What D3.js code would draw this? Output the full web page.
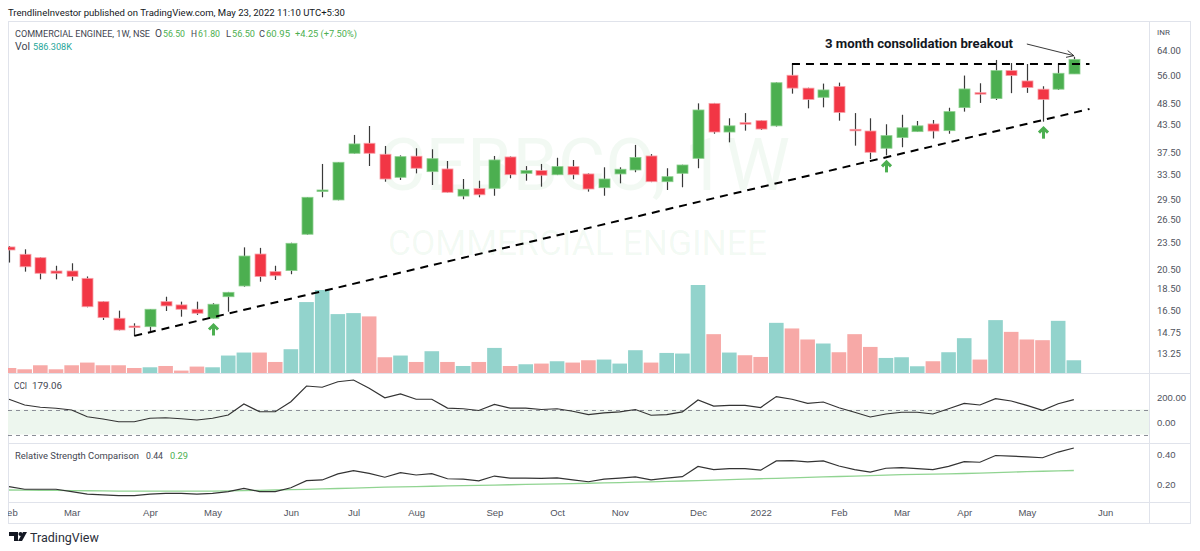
<!DOCTYPE html>
<html>
<head>
<meta charset="utf-8">
<script src="https://cdn.jsdelivr.net/npm/d3@7"></script>
<style>
  body { margin: 0; background: #fff; }
  svg { display: block; font-family: Roboto, "Noto Sans", sans-serif; }
</style>
</head>
<body>
<svg id="chart" width="1200" height="551"></svg>
<script>
// Weekly candles, CEBBCO, starting week of 1 Feb 2021
const firstWeek = new Date(2021, 1, 1);

const open  = [22.99,22.13,21.74,20.29,20.29,19.53,17.30,15.87,15.24,15.19,17.30,17.01,16.63,15.87,17.75,18.77,22.16,20.22,20.33,24.56,
               30.75,29.35,37.41,39.41,37.22,33.02,36.85,34.00,34.48,29.95,31.13,31.18,36.70,33.71,34.20,33.46,34.90,33.60,31.28,33.60,
               34.30,36.89,32.27,33.71,36.44,48.49,41.78,43.86,44.32,43.14,56.12,52.49,50.05,52.92,42.37,42.00,38.40,40.60,41.86,43.57,
               42.08,47.43,51.26,49.72,57.49,54.48,52.20,52.20,56.50];
const high  = [23.10,22.71,21.80,20.85,21.12,19.72,17.35,16.51,15.46,16.65,17.75,17.30,17.30,17.16,18.20,22.94,22.88,20.85,23.50,29.80,
               35.39,35.75,41.15,43.11,38.86,37.00,38.40,38.20,35.94,32.73,32.44,36.89,36.80,35.00,35.39,36.55,36.13,33.70,34.78,34.78,
               39.07,37.25,34.61,35.25,48.49,48.60,44.87,46.10,44.40,54.10,59.60,52.60,53.74,54.01,46.10,44.87,43.50,45.70,44.25,44.48,
               47.40,56.03,53.83,60.76,59.80,59.50,53.00,59.60,61.80];
const low   = [21.20,20.22,19.43,19.43,19.29,16.80,15.73,14.90,14.48,14.80,16.48,16.00,16.15,15.85,16.42,18.70,19.19,19.36,19.95,24.50,
               29.76,29.30,37.35,35.02,32.27,32.56,33.70,31.72,30.50,29.46,29.76,30.00,32.85,32.44,31.45,33.40,32.68,30.65,30.00,32.00,
               33.90,32.20,30.91,31.35,34.61,41.41,39.60,42.08,42.23,43.00,51.00,47.25,47.50,44.32,38.92,36.30,37.00,38.60,41.80,40.40,
               41.41,46.45,48.60,49.35,51.13,51.20,44.09,52.00,56.50];
const close = [22.63,20.74,20.05,20.05,19.72,16.85,15.92,14.93,15.14,16.63,16.92,16.63,16.29,17.07,18.16,21.93,19.72,19.79,23.43,29.76,
               30.91,35.70,39.27,37.41,32.73,36.76,34.61,36.37,30.54,31.02,30.15,36.13,33.47,34.20,33.38,34.90,33.46,31.07,32.73,34.43,
               36.60,32.27,33.12,35.20,46.85,41.78,43.14,43.57,42.43,53.98,52.49,49.50,51.99,46.25,42.08,37.60,41.00,42.70,43.14,41.99,
               46.45,52.26,50.90,57.49,56.03,52.65,49.50,56.70,60.95];
// volume in thousands of shares
const volume = [231,171,356,171,356,480,356,356,231,263,323,111,296,263,804,942,942,508,1095,3266,
                3821,2712,2758,2606,725,804,508,1003,508,323,508,1155,323,402,434,541,480,587,619,434,
                1049,480,924,896,4052,1788,942,818,739,2310,2051,1543,1358,956,1788,1201,693,725,310,541,
                956,1603,619,2435,1894,1543,1511,2402,586.308];
const cci = [182,136,118,110,96,42,24,2,2,30,34,26,16,30,56,144,82,82,162,288,
             278,322,336,270,194,225,182,182,111,106,92,141,111,111,100,106,86,59,73,81,
             100,54,59,81,176,127,133,133,116,203,182,149,160,114,78,40,64,78,78,64,
             106,149,136,187,168,133,94,146,179.06];
const rsc = [0.182,0.165,0.165,0.165,0.149,0.133,0.127,0.122,0.122,0.133,0.138,0.138,0.133,0.138,0.149,0.171,0.149,0.149,0.175,0.222,
             0.227,0.267,0.289,0.271,0.245,0.276,0.260,0.269,0.235,0.232,0.221,0.253,0.239,0.239,0.237,0.241,0.228,0.215,0.232,0.239,
             0.247,0.228,0.239,0.249,0.317,0.296,0.303,0.303,0.292,0.354,0.356,0.347,0.354,0.320,0.296,0.279,0.305,0.309,0.303,0.296,
             0.317,0.349,0.345,0.390,0.386,0.381,0.375,0.413,0.440];
const rscMa = [0.160,0.159,0.158,0.157,0.156,0.155,0.154,0.153,0.152,0.152,0.152,0.152,0.152,0.153,0.154,0.156,0.158,0.160,0.162,0.164,
               0.167,0.170,0.173,0.176,0.179,0.181,0.183,0.185,0.187,0.189,0.191,0.193,0.195,0.197,0.199,0.201,0.203,0.205,0.207,0.209,
               0.212,0.214,0.217,0.220,0.223,0.226,0.229,0.232,0.235,0.238,0.241,0.244,0.247,0.250,0.253,0.256,0.259,0.262,0.264,0.266,
               0.268,0.270,0.273,0.276,0.279,0.282,0.285,0.288,0.290];

const priceTicks = [64, 56, 48.5, 43.5, 37.5, 33.5, 29.5, 26.5, 23.5, 20.5, 18.5, 16.5, 14.75, 13.25];
const cciTicks = [200, 0];
const rscTicks = [0.4, 0.2];
const monthLabels = ['Feb','Mar','Apr','May','Jun','Jul','Aug','Sep','Oct','Nov','Dec','2022','Feb','Mar','Apr','May','Jun'];

// drawings on the chart (bar index, price)
const trendFrom = [8, 14.48];
const trendTo = [69, 47.1];
const rangeFrom = [50, 59.5];
const rangeTo = [69, 59.5];
const upArrows = [13, 56, 66];

// layout
const L = 8, R = 1149, AR = 1190;
const mainTop = 21, mainBot = 373, cciBot = 443, rscBot = 502, timeBot = 523;
const green = '#4caf50', red = '#f23645';
const volUp = '#92d3cc', volDown = '#f7a9a7';
const lineCol = '#e0e3eb', axisText = '#50535e', labelText = '#434651';

const svg = d3.select('#chart');
const defs = svg.append('defs');
[['clipMain', mainTop, mainBot], ['clipCci', mainBot, cciBot], ['clipRsc', cciBot, rscBot], ['clipTime', rscBot, timeBot]]
  .forEach(function (c) {
    defs.append('clipPath').attr('id', c[0])
      .append('rect').attr('x', L).attr('y', c[1]).attr('width', R - L).attr('height', c[2] - c[1]);
  });

// scales
const x = d3.scaleLinear().domain([-0.064, 72.8]).range([L, R]);
const y = d3.scaleLog().domain([11.94, 74.4]).range([mainBot, mainTop]);
const yVol = d3.scaleLinear().domain([0, d3.max(volume)]).range([mainBot, mainBot - 88]);
const yCci = d3.scaleLinear().domain([-168, 392]).range([cciBot, mainBot]);
const yRsc = d3.scaleLinear().domain([0.08, 0.4733]).range([rscBot, cciBot]);

const idx = d3.range(close.length);
const last = close.length - 1;
const fmt2 = d3.format('.2f');

// a label that takes the same width as in the original: shrink the font
// until it fits, then let textLength settle the last bit
function label(px, py, w, str, col, size, parent) {
  const base = size || 10.5;
  const t = (parent || svg).append('text').attr('x', px).attr('y', py).attr('font-size', base)
    .attr('fill', col || labelText).text(str);
  const natural = t.node().getComputedTextLength();
  if (natural > w) t.attr('font-size', base * w / natural);
  return t.attr('textLength', w).attr('lengthAdjust', 'spacingAndGlyphs');
}

// header
label(8, 16, 337, 'TrendlineInvestor published on TradingView.com, May 23, 2022 11:10 UTC+5:30', '#131722', 10.5);

// frame
const frame = svg.append('g').attr('stroke', lineCol).attr('fill', 'none');
frame.append('rect').attr('x', L + 0.5).attr('y', mainTop + 0.5).attr('width', AR - L).attr('height', timeBot - mainTop);
[mainBot, cciBot, rscBot].forEach(function (v) {
  frame.append('line').attr('x1', L).attr('x2', AR).attr('y1', v + 0.5).attr('y2', v + 0.5);
});
frame.append('line').attr('x1', R + 0.5).attr('x2', R + 0.5).attr('y1', mainTop).attr('y2', timeBot);

// watermark
const wm = svg.append('g').attr('fill', green).attr('fill-opacity', 0.07);
label(378, 190, 412, 'CEBBCO, 1W', green, 84, wm);
label(388, 255, 379, 'COMMERCIAL ENGINEE', green, 38, wm);

// main pane
const main = svg.append('g').attr('clip-path', 'url(#clipMain)');

main.append('g').selectAll('rect').data(idx).join('rect')
  .attr('x', i => x(i) - 7.3)
  .attr('width', 14.6)
  .attr('y', i => yVol(volume[i]))
  .attr('height', i => mainBot - yVol(volume[i]))
  .attr('fill', i => close[i] >= open[i] ? volUp : volDown);

main.append('g').selectAll('line').data(idx).join('line')
  .attr('x1', i => Math.round(x(i)) + 0.5).attr('x2', i => Math.round(x(i)) + 0.5)
  .attr('y1', i => y(high[i])).attr('y2', i => y(low[i]))
  .attr('stroke', '#3a3a3a').attr('stroke-width', 1.2);

main.append('g').selectAll('rect').data(idx).join('rect')
  .attr('x', i => Math.round(x(i)) - 5)
  .attr('width', 11)
  .attr('y', i => y(Math.max(open[i], close[i])))
  .attr('height', i => Math.max(1.5, y(Math.min(open[i], close[i])) - y(Math.max(open[i], close[i]))))
  .attr('fill', i => close[i] >= open[i] ? green : red)
  .attr('stroke', i => close[i] >= open[i] ? '#8ccf8e' : '#f7a1a8')
  .attr('stroke-width', 0.8);

// trend line and range line
main.append('line')
  .attr('x1', x(trendFrom[0])).attr('y1', y(trendFrom[1]))
  .attr('x2', x(trendTo[0])).attr('y2', y(trendTo[1]))
  .attr('stroke', '#000').attr('stroke-width', 2).attr('stroke-dasharray', '8,6');
main.append('line')
  .attr('x1', x(rangeFrom[0])).attr('y1', y(rangeFrom[1]))
  .attr('x2', x(rangeTo[0])).attr('y2', y(rangeTo[1]))
  .attr('stroke', '#000').attr('stroke-width', 2).attr('stroke-dasharray', '8,6');

// green up arrows below pivot lows
const arrows = main.append('g').attr('stroke', green).attr('fill', 'none').attr('stroke-width', 3);
upArrows.forEach(function (i) {
  const ax = Math.round(x(i)) + 0.5, ay = y(low[i]) + 6;
  arrows.append('path').attr('d', 'M' + (ax - 4.5) + ',' + (ay + 5) + 'L' + ax + ',' + (ay + 0.5) + 'L' + (ax + 4.5) + ',' + (ay + 5));
  arrows.append('line').attr('x1', ax).attr('x2', ax).attr('y1', ay + 1).attr('y2', ay + 11);
});

// annotation
label(825, 48, 188, '3 month consolidation breakout', '#131722', 13).attr('font-weight', 'bold');
const tipX = x(last), tipY = y(high[last]) - 1;
svg.append('line').attr('x1', x(65)).attr('y1', 44).attr('x2', tipX).attr('y2', tipY)
  .attr('stroke', '#222').attr('stroke-width', 0.9);
const ang = Math.atan2(tipY - 44, tipX - x(65));
svg.append('path')
  .attr('d', 'M' + (tipX - 8 * Math.cos(ang - 0.45)) + ',' + (tipY - 8 * Math.sin(ang - 0.45)) +
             'L' + tipX + ',' + tipY +
             'L' + (tipX - 8 * Math.cos(ang + 0.45)) + ',' + (tipY - 8 * Math.sin(ang + 0.45)))
  .attr('fill', 'none').attr('stroke', '#222').attr('stroke-width', 0.9);

// legends: one text per coloured piece, at the spots and widths the original uses
const chg = close[last] - close[last - 1];
label(15, 37, 135, 'COMMERCIAL ENGINEE, 1W, NSE');
label(155, 37, 7, 'O');   label(163, 37, 22, fmt2(open[last]), green);
label(191, 37, 6, 'H');   label(198, 37, 22, fmt2(high[last]), green);
label(226, 37, 5, 'L');   label(232, 37, 23, fmt2(low[last]), green);
label(259, 37, 6, 'C');   label(266, 37, 24, fmt2(close[last]), green);
label(295, 37, 62, '+' + fmt2(chg) + ' (+' + fmt2(chg / close[last - 1] * 100) + '%)', green);
label(15, 49.5, 15, 'Vol');
label(33, 49.5, 39, d3.format('.3f')(volume[last]) + 'K', '#26a69a');
label(14, 389, 13, 'CCI');
label(32, 389, 30, fmt2(cci[last]));
label(15, 459, 124, 'Relative Strength Comparison');
label(146, 459, 17, fmt2(rsc[last]));
label(170, 459, 18, fmt2(rscMa[last]), green);

// price axis
svg.append('text').attr('x', R + 8).attr('y', 35).attr('font-size', 8).attr('fill', axisText).text('INR');
const pa = svg.append('g').attr('transform', 'translate(' + R + ',0)')
  .call(d3.axisRight(y).tickValues(priceTicks).tickFormat(fmt2).tickSize(0).tickPadding(8));
pa.select('.domain').remove();
pa.selectAll('text').attr('font-size', 9.5).attr('fill', axisText).attr('font-family', 'Roboto, sans-serif');

// CCI pane
const cciG = svg.append('g').attr('clip-path', 'url(#clipCci)');
cciG.append('rect').attr('x', L).attr('width', R - L)
  .attr('y', yCci(100)).attr('height', yCci(-100) - yCci(100)).attr('fill', '#edf6ee');
[100, -100].forEach(function (v) {
  cciG.append('line').attr('x1', L).attr('x2', R).attr('y1', Math.round(yCci(v)) + 0.5).attr('y2', Math.round(yCci(v)) + 0.5)
    .attr('stroke', '#8a8d96').attr('stroke-dasharray', '4,4');
});
cciG.append('path').datum(idx)
  .attr('d', d3.line().x(i => x(i)).y(i => yCci(cci[i])))
  .attr('fill', 'none').attr('stroke', '#333').attr('stroke-width', 1.2);
const ca = svg.append('g').attr('transform', 'translate(' + R + ',0)')
  .call(d3.axisRight(yCci).tickValues(cciTicks).tickFormat(fmt2).tickSize(0).tickPadding(8));
ca.select('.domain').remove();
ca.selectAll('text').attr('font-size', 9.5).attr('fill', axisText);

// RSC pane
const rscG = svg.append('g').attr('clip-path', 'url(#clipRsc)');
rscG.append('path').datum(idx)
  .attr('d', d3.line().x(i => x(i)).y(i => yRsc(rscMa[i])))
  .attr('fill', 'none').attr('stroke', '#91d492').attr('stroke-width', 1.3);
rscG.append('path').datum(idx)
  .attr('d', d3.line().x(i => x(i)).y(i => yRsc(rsc[i])))
  .attr('fill', 'none').attr('stroke', '#333').attr('stroke-width', 1.2);
const ra = svg.append('g').attr('transform', 'translate(' + R + ',0)')
  .call(d3.axisRight(yRsc).tickValues(rscTicks).tickFormat(fmt2).tickSize(0).tickPadding(8));
ra.select('.domain').remove();
ra.selectAll('text').attr('font-size', 9.5).attr('fill', axisText);

// time axis: label the first weekly bar of each month
const weeks = d3.timeMonday.range(firstWeek, d3.timeWeek.offset(firstWeek, 72));
const monthStarts = idx.concat(d3.range(close.length, weeks.length))
  .filter(i => i === 0 || weeks[i].getMonth() !== weeks[i - 1].getMonth());
const ta = svg.append('g').attr('clip-path', 'url(#clipTime)').append('g')
  .attr('transform', 'translate(0,' + rscBot + ')')
  .call(d3.axisBottom(x).tickValues(monthStarts).tickFormat((d, k) => monthLabels[k]).tickSize(0).tickPadding(7));
ta.select('.domain').remove();
ta.selectAll('text').attr('font-size', 9.5).attr('fill', axisText);

// TradingView mark
const logo = svg.append('g').attr('fill', '#131722');
logo.append('path').attr('d', 'M9,532h9v9h-4v-5h-5z');
logo.append('circle').attr('cx', 20.5).attr('cy', 534).attr('r', 2);
logo.append('path').attr('d', 'M23,532h4l-5,9h-4z');
svg.append('text').attr('x', 30).attr('y', 542).attr('font-size', 12.5).attr('fill', '#2a2e39').text('TradingView');
</script>
</body>
</html>
